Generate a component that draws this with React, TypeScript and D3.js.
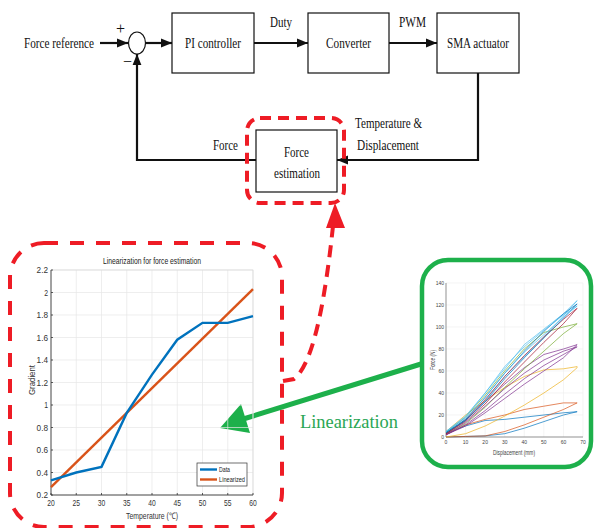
import React from "react";
import * as d3 from "d3";

// left chart: gradient vs temperature
const temps = [20, 25, 30, 35, 40, 45, 50, 55, 60];
const gradientData = [0.33, 0.40, 0.45, 0.93, 1.27, 1.58, 1.73, 1.73, 1.79];
const linearizedEnds = [0.27, 2.03];
const gradTicksX = [20, 25, 30, 35, 40, 45, 50, 55, 60];
const gradTicksY = [0.2, 0.4, 0.6, 0.8, 1, 1.2, 1.4, 1.6, 1.8, 2, 2.2];

// right chart: force vs displacement hysteresis loops
const loopColors = ["#0072BD", "#D95319", "#EDB120", "#7E2F8E", "#77AC30", "#4DBEEE", "#A2142F", "#0072BD", "#7E2F8E", "#4DBEEE"];
const loopDisp = [0, 10, 20, 30, 40, 50, 60, 67];
const loopUp = [
  [0, 0.5, 1, 3, 8, 14, 20, 23],
  [0, 0.5, 1, 5, 11, 18, 25, 31],
  [0, 3, 10, 19, 29, 40, 52, 63],
  [2, 10, 22, 35, 48, 60, 72, 84],
  [3, 12, 27, 45, 62, 78, 94, 103],
  [4, 15, 33, 55, 73, 91, 110, 124],
  [3, 14, 30, 50, 68, 86, 103, 117],
  [4, 15, 32, 53, 72, 90, 108, 121],
  [2, 11, 24, 39, 53, 65, 75, 82],
  [5, 17, 36, 58, 77, 93, 109, 119],
];
const loopDown = [
  [3, 10, 15, 16, 18, 20, 22, 23],
  [2, 11, 16, 20, 25, 28, 31, 31],
  [5, 20, 33, 45, 55, 61, 62, 64],
  [3, 16, 32, 48, 63, 75, 80, 84],
  [4, 18, 38, 60, 80, 95, 100, 103],
  [5, 18, 40, 62, 84, 98, 112, 124],
  [3, 15, 34, 55, 74, 91, 107, 117],
  [4, 16, 36, 58, 78, 96, 112, 121],
  [2, 13, 28, 44, 58, 70, 78, 82],
  [5, 19, 40, 64, 82, 97, 111, 119],
];
const forceTicksX = [0, 10, 20, 30, 40, 50, 60, 70];
const forceTicksY = [0, 20, 40, 60, 80, 100, 120, 140];

const serif = "'Liberation Serif', 'DejaVu Serif', serif";
const sans = "'Liberation Sans', Arial, sans-serif";

const T = ({ x, y, w, size, children, anchor = "start", fill = "#111", family = serif, rotate }: any) => (
  <text
    x={x}
    y={y}
    fontSize={size}
    fontFamily={family}
    fill={fill}
    textAnchor={anchor}
    textLength={w}
    lengthAdjust="spacingAndGlyphs"
    transform={rotate ? `rotate(${rotate} ${x} ${y})` : undefined}
  >
    {children}
  </text>
);

export default function App() {
  // left chart scales
  const gx = d3.scaleLinear().domain([20, 60]).range([51, 253]);
  const gy = d3.scaleLinear().domain([0.2, 2.2]).range([495, 270]);
  const gLine = d3.line<[number, number]>().x((d) => gx(d[0])).y((d) => gy(d[1]));
  const dataPts = temps.map((t, i) => [t, gradientData[i]] as [number, number]);
  const linPts: [number, number][] = [[20, linearizedEnds[0]], [60, linearizedEnds[1]]];

  // right chart scales
  const fx = d3.scaleLinear().domain([0, 70]).range([446, 583]);
  const fy = d3.scaleLinear().domain([0, 140]).range([437, 283]);
  const loopLine = d3.line<[number, number]>().x((d) => fx(d[0])).y((d) => fy(d[1]));

  const red = "#ee1c25";
  const green = "#1db04b";

  return (
    <svg width={594} height={528} style={{ position: "absolute", left: 0, top: 0, background: "#fff" }}>
      <defs>
        <marker id="ah" viewBox="0 0 10 10" refX="10" refY="5" markerWidth="5" markerHeight="5" orient="auto">
          <path d="M0,1 L10,5 L0,9 z" fill="#111" />
        </marker>
      </defs>

      {/* block diagram */}
      <g stroke="#111" fill="none">
        <rect x={172} y={13} width={82} height={60} strokeWidth={1.2} />
        <rect x={308} y={13} width={81} height={60} strokeWidth={1.2} />
        <rect x={437} y={13} width={82} height={60} strokeWidth={1.2} />
        <rect x={256} y={130} width={81} height={62} strokeWidth={1.2} />
        <ellipse cx={137} cy={43} rx={8.5} ry={11} strokeWidth={1.2} />
        <g strokeWidth={2.2}>
          <line x1={100} y1={43} x2={128} y2={43} markerEnd="url(#ah)" />
          <line x1={146} y1={43} x2={172} y2={43} markerEnd="url(#ah)" />
          <line x1={254} y1={43} x2={308} y2={43} markerEnd="url(#ah)" />
          <line x1={389} y1={43} x2={437} y2={43} markerEnd="url(#ah)" />
          <polyline points="478,73 478,160 337,160" markerEnd="url(#ah)" />
          <polyline points="256,160 137,160 137,54" markerEnd="url(#ah)" />
        </g>
      </g>
      <T x={24} y={48} w={70} size={15}>Force reference</T>
      <T x={185} y={48} w={56} size={15}>PI controller</T>
      <T x={326} y={48} w={45} size={15}>Converter</T>
      <T x={447} y={48} w={62} size={15}>SMA actuator</T>
      <T x={270} y={27} w={22} size={15}>Duty</T>
      <T x={399} y={27} w={27} size={15}>PWM</T>
      <T x={116} y={34} size={16}>+</T>
      <T x={123} y={67} size={16}>−</T>
      <T x={213} y={150} w={25} size={15}>Force</T>
      <T x={355} y={128} w={67} size={15}>Temperature &amp;</T>
      <T x={357} y={150} w={62} size={15}>Displacement</T>
      <T x={284} y={157} w={25} size={15}>Force</T>
      <T x={274} y={178} w={46} size={15}>estimation</T>

      {/* red dashed frames */}
      <rect x={247} y={118} width={97} height={85} rx={13} fill="none" stroke={red} strokeWidth={4} strokeDasharray="11 7" />
      <rect x={10} y={243} width={272} height={284} rx={34} fill="none" stroke={red} strokeWidth={4} strokeDasharray="14 12" />
      <path d="M283,381 L294,379 C308,368 322,330 333,226" fill="none" stroke={red} strokeWidth={4} strokeDasharray="12 8" />
      <path d="M335,203 L345,228 L326,228 z" fill={red} />

      {/* green frame and arrow */}
      <rect x={422} y={260} width={169} height={207} rx={26} fill="none" stroke={green} strokeWidth={4.5} />
      <line x1={421} y1={364} x2={240} y2={420} stroke={green} strokeWidth={5} />
      <path d="M220,428 L241,404 L250,433 z" fill={green} />
      <T x={300} y={428} w={98} size={19} fill="#2aa654">Linearization</T>

      {/* left chart */}
      <g>
        {gradTicksX.map((t) => (
          <line key={"gx" + t} x1={gx(t)} x2={gx(t)} y1={gy(0.2)} y2={gy(2.2)} stroke="#e6e6e6" strokeWidth={0.7} />
        ))}
        {gradTicksY.map((t) => (
          <line key={"gy" + t} x1={gx(20)} x2={gx(60)} y1={gy(t)} y2={gy(t)} stroke="#e6e6e6" strokeWidth={0.7} />
        ))}
        <rect x={gx(20)} y={gy(2.2)} width={gx(60) - gx(20)} height={gy(0.2) - gy(2.2)} fill="none" stroke="#d8d8d8" strokeWidth={0.7} />
        <line x1={gx(20)} x2={gx(20)} y1={gy(0.2)} y2={gy(2.2)} stroke="#333" strokeWidth={0.8} />
        <line x1={gx(20)} x2={gx(60)} y1={gy(0.2)} y2={gy(0.2)} stroke="#333" strokeWidth={0.8} />
        {gradTicksX.map((t) => (
          <g key={"tx" + t}>
            <line x1={gx(t)} x2={gx(t)} y1={gy(0.2)} y2={gy(0.2) - 2} stroke="#333" strokeWidth={0.8} />
            <T x={gx(t)} y={gy(0.2) + 11} size={8.5} anchor="middle" family={sans} fill="#333" w={7.5}>{t}</T>
          </g>
        ))}
        {gradTicksY.map((t) => {
          const label = d3.format("~g")(t);
          return (
            <g key={"ty" + t}>
              <line x1={gx(20)} x2={gx(20) + 2} y1={gy(t)} y2={gy(t)} stroke="#333" strokeWidth={0.8} />
              <T x={gx(20) - 3} y={gy(t) + 3} size={8.5} anchor="end" family={sans} fill="#333" w={label.length * 3.8}>{label}</T>
            </g>
          );
        })}
        <T x={152} y={264} w={98} size={9} anchor="middle" family={sans} fill="#222">Linearization for force estimation</T>
        <T x={152} y={519} w={52} size={9} anchor="middle" family={sans} fill="#333">Temperature (℃)</T>
        <T x={35} y={380} w={30} size={9} anchor="middle" family={sans} fill="#333" rotate={-90}>Gradient</T>
        <path d={gLine(linPts) || ""} fill="none" stroke="#D95319" strokeWidth={2.4} />
        <path d={gLine(dataPts) || ""} fill="none" stroke="#0072BD" strokeWidth={2.4} />
        <rect x={197} y={463} width={50} height={23} fill="#fff" stroke="#333" strokeWidth={0.7} />
        <line x1={200} x2={217} y1={469.5} y2={469.5} stroke="#0072BD" strokeWidth={2.4} />
        <line x1={200} x2={217} y1={479.5} y2={479.5} stroke="#D95319" strokeWidth={2.4} />
        <T x={219} y={472} w={11} size={7} family={sans} fill="#222">Data</T>
        <T x={219} y={482} w={26} size={7} family={sans} fill="#222">Linearized</T>
      </g>

      {/* right chart */}
      <g>
        {forceTicksX.map((t) => (
          <line key={"fx" + t} x1={fx(t)} x2={fx(t)} y1={fy(0)} y2={fy(140)} stroke="#ececec" strokeWidth={0.6} />
        ))}
        {forceTicksY.map((t) => (
          <line key={"fy" + t} x1={fx(0)} x2={fx(70)} y1={fy(t)} y2={fy(t)} stroke="#ececec" strokeWidth={0.6} />
        ))}
        <line x1={fx(0)} x2={fx(0)} y1={fy(0)} y2={fy(140)} stroke="#555" strokeWidth={0.6} />
        <line x1={fx(0)} x2={fx(70)} y1={fy(0)} y2={fy(0)} stroke="#555" strokeWidth={0.6} />
        {forceTicksX.map((t) => (
          <T key={"fxl" + t} x={fx(t)} y={fy(0) + 7} size={5} anchor="middle" family={sans} fill="#444">{t}</T>
        ))}
        {forceTicksY.map((t) => (
          <T key={"fyl" + t} x={fx(0) - 2} y={fy(t) + 2} size={5} anchor="end" family={sans} fill="#444">{t}</T>
        ))}
        <T x={514} y={455} w={42} size={6.5} anchor="middle" family={sans} fill="#444">Displacement (mm)</T>
        <T x={435} y={360} w={20} size={6.5} anchor="middle" family={sans} fill="#444" rotate={-90}>Force (N)</T>
        {loopUp.map((up, i) => {
          const pts: [number, number][] = loopDisp.map((d, j) => [d, up[j]] as [number, number])
            .concat(loopDisp.slice().reverse().map((d, j) => [d, loopDown[i][loopDisp.length - 1 - j]] as [number, number]));
          return <path key={"loop" + i} d={loopLine(pts) || ""} fill="none" stroke={loopColors[i]} strokeWidth={0.7} />;
        })}
      </g>
    </svg>
  );
}
